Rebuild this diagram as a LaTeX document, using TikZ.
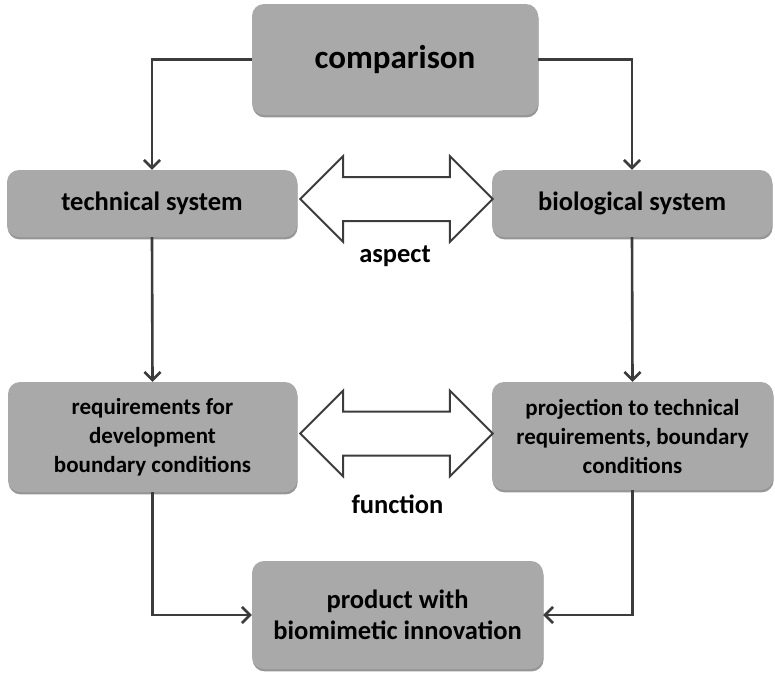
\documentclass[tikz,border=0pt]{standalone}
\usepackage{fontspec}
\setmainfont{Carlito}
\usetikzlibrary{arrows.meta,shadows,calc}

\definecolor{boxgray}{HTML}{A9A9A9}
\definecolor{linegray}{HTML}{3C3C3C}

\tikzset{
  box/.style={rounded corners=12pt, fill=boxgray, align=center,
    inner sep=0pt, font=\bfseries,
    drop shadow={shadow xshift=0.6pt, shadow yshift=-2.4pt,
      fill=black!75, opacity=0.55}},
  flow/.style={draw=linegray, line width=2.6pt,
    -{Straight Barb[length=8pt, width=16pt, line width=2.6pt]}},
  twoway/.style={draw=linegray, line width=2pt, fill=white, line join=miter},
  tag/.style={font=\bfseries\fontsize{26.5}{32}\selectfont, anchor=base}
}

% wide double arrow between two tip points
\newcommand\twoway[2]{%
  \path[twoway] let \p1=(#1), \p2=(#2) in
    (\x1,\y1) -- (\x1+43pt,\y1+43pt) -- (\x1+43pt,\y1+22pt)
    -- (\x2-43pt,\y2+22pt) -- (\x2-43pt,\y2+43pt) -- (\x2,\y2)
    -- (\x2-43pt,\y2-43pt) -- (\x2-43pt,\y2-22pt)
    -- (\x1+43pt,\y1-22pt) -- (\x1+43pt,\y1-43pt) -- cycle;}

\begin{document}
\begin{tikzpicture}[x=1pt, y=-1pt]
  \useasboundingbox (0,0) rectangle (775,673);

  % boxes
  \node[box, minimum width=286pt, minimum height=111pt,
    font=\bfseries\fontsize{33}{39}\selectfont] (cmp) at (395,59.5) {comparison};
  \node[box, minimum width=290pt, minimum height=67pt,
    font=\bfseries\fontsize{26.5}{32}\selectfont] (tech) at (152,203.5) {technical system};
  \node[box, minimum width=280pt, minimum height=67pt,
    font=\bfseries\fontsize{26.5}{32}\selectfont] (bio) at (632,203.5) {biological system};
  \node[box, minimum width=289pt, minimum height=110pt,
    font=\bfseries\fontsize{23}{29}\selectfont] (req) at (152.5,437)
    {requirements for\\development\\boundary conditions};
  \node[box, minimum width=281pt, minimum height=108pt,
    font=\bfseries\fontsize{23}{29}\selectfont] (proj) at (632.5,436)
    {projection to technical\\requirements, boundary\\conditions};
  \node[box, minimum width=291pt, minimum height=108pt,
    font=\bfseries\fontsize{26.5}{31}\selectfont] (prod) at (397.5,615)
    {product with\\biomimetic innovation};

  % connectors
  \draw[flow] (cmp.west) -| (tech.north);
  \draw[flow] (cmp.east) -| (bio.north);
  \draw[flow] (tech.south) -- (req.north);
  \draw[flow] (bio.south) -- (proj.north);
  \draw[flow] (req.south) |- (prod.west);
  \draw[flow] (proj.south) |- (prod.east);

  % double arrows
  \coordinate (aspL) at ($(tech.east)+(3,-4.5)$);
  \coordinate (aspR) at ($(bio.west)+(1,-4.5)$);
  \coordinate (funL) at ($(req.east)+(3,-3.5)$);
  \coordinate (funR) at ($(proj.west)+(1,-2.5)$);
  \twoway{aspL}{aspR}
  \twoway{funL}{funR}

  \node[tag] (asp) at (395,262) {aspect};
  \node[tag] (fun) at (397.5,513) {function};
\end{tikzpicture}
\end{document}
